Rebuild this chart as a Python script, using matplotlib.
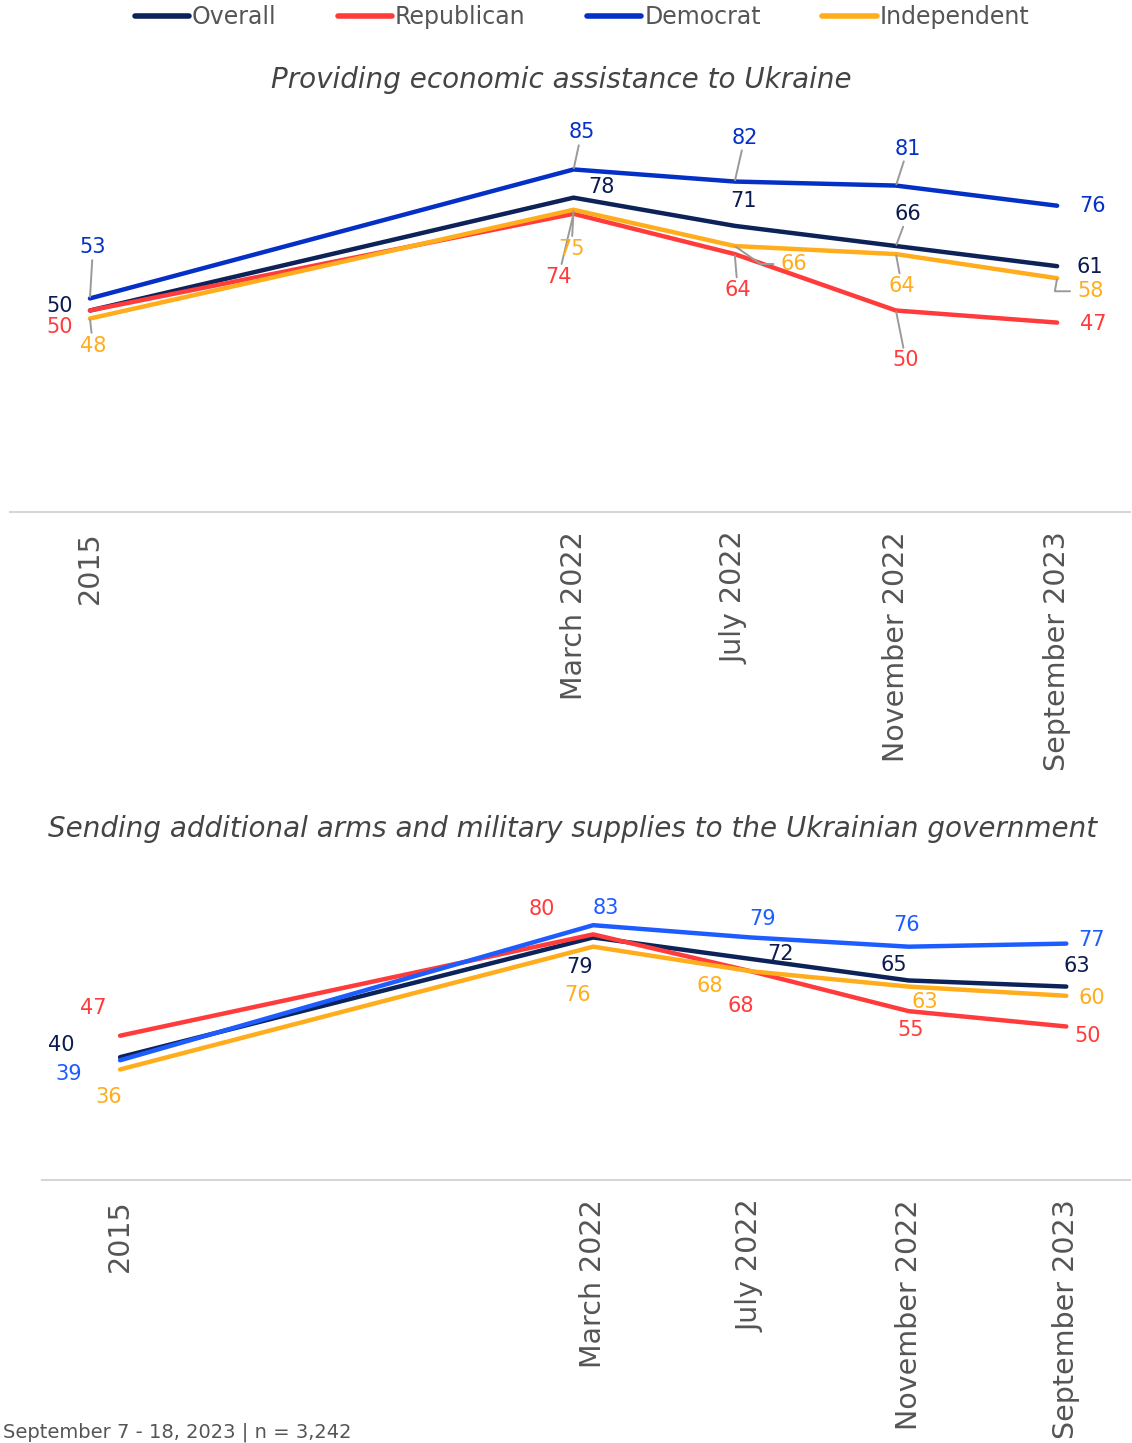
import matplotlib as mpl
mpl.use('Agg')
import matplotlib.pyplot as plt
from matplotlib.lines import Line2D

# ---- data -------------------------------------------------------------
waves = ['2015', 'March 2022', 'July 2022', 'November 2022', 'September 2023']
groups = ['Overall', 'Republican', 'Democrat', 'Independent']

econ = {'Overall':     [50, 78, 71, 66, 61],
        'Republican':  [50, 74, 64, 50, 47],
        'Democrat':    [53, 85, 82, 81, 76],
        'Independent': [48, 75, 66, 64, 58]}

arms = {'Overall':     [40, 79, 72, 65, 63],
        'Republican':  [47, 80, 68, 55, 50],
        'Democrat':    [39, 83, 79, 76, 77],
        'Independent': [36, 76, 68, 63, 60]}

title_econ = 'Providing economic assistance to Ukraine'
title_arms = 'Sending additional arms and military supplies to the Ukrainian government'
footer = 'September 7 - 18, 2023 | n = 3,242'

# ---- style ------------------------------------------------------------
xpos = [0, 3, 4, 5, 6]   # 2015 sits apart from the 2022-23 waves
clr_top = {'Overall': '#0c2259', 'Republican': '#ff3b3b',
           'Democrat': '#0530c6', 'Independent': '#ffad1c'}
clr_bot = dict(clr_top, Democrat='#1d5cff')
clr_txt = {'Overall': '#0b1a50'}
clr_gray = '#555555'
clr_lead = '#9a9a9a'

# label offsets in pixels (dx, dy down) + leader flag
lab_top = {'Overall':     [(-30, -4, 0), (28, -11, 0), (9, -25, 0), (12, -32, 1), (33, 1, 0)],
           'Republican':  [(-30, 17, 0), (-15, 63, 1), (3, 36, 1), (10, 50, 1), (36, 1, 0)],
           'Democrat':    [(3, -51, 1), (8, -37, 1), (10, -44, 1), (12, -37, 1), (35, 0, 0)],
           'Independent': [(3, 27, 1), (-2, 39, 1), (59, 18, 1), (6, 32, 1), (33, 13, 1)]}
# leaders with an elbow: angle of the segment touching the point
elbow = {('Independent', 2): -35, ('Independent', 4): 80}
lab_bot = {'Overall':     [(-59, -12), (-14, 30), (30, -5), (-15, -15), (11, -21)],
           'Republican':  [(-27, -28), (-51, -25), (-10, 35), (2, 19), (21, 10)],
           'Democrat':    [(-51, 14), (13, -17), (12, -18), (-2, -22), (25, -4)],
           'Independent': [(-11, 28), (-16, 48), (-41, 15), (16, 15), (26, 2)]}

W, H = 1132., 1443.
rDPI = 100.
plt.rcParams['font.family'] = 'DejaVu Sans'

fig = plt.figure(figsize=(W/rDPI, H/rDPI), dpi=rDPI, facecolor='w')


def panel(rect, data, clrs, labs, xlim, leaders):
    ax = fig.add_axes(rect)
    for g in groups:
        ax.plot(xpos, data[g], '-', color=clrs[g], lw=3.2, solid_capstyle='round',
                solid_joinstyle='miter', zorder=3)
    for g in groups:
        for i, v in enumerate(data[g]):
            o = labs[g][i]
            kw = {}
            if leaders and o[2]:
                if (g, i) in elbow:
                    kw['arrowprops'] = dict(arrowstyle='-', color=clr_lead, lw=1.4,
                                            shrinkA=3, shrinkB=1, relpos=(0., 0.5),
                                            connectionstyle='angle,angleA=0,angleB=%d,rad=0' % elbow[(g, i)])
                else:
                    kw['arrowprops'] = dict(arrowstyle='-', color=clr_lead, lw=1.4,
                                            shrinkA=0, shrinkB=1)
            ax.annotate(str(v), xy=(xpos[i], v), xytext=(o[0], -o[1]),
                        textcoords='offset pixels', ha='center', va='center',
                        fontsize=15, color=clr_txt.get(g, clrs[g]), zorder=5, **kw)
    ax.set_xlim(*xlim)
    ax.set_ylim(0, 100)
    ax.set_xticks(xpos)
    ax.set_xticklabels(waves, rotation=90, fontsize=20.5, color=clr_gray)
    ax.tick_params(axis='x', length=0, pad=14)
    ax.set_yticks([])
    for s in ['top', 'left', 'right']:
        ax.spines[s].set_visible(False)
    ax.spines['bottom'].set_color('#d6d6d6')
    ax.spines['bottom'].set_linewidth(1.5)
    return ax


panel([10/W, 1-512/H, 1120/W, 403/H], econ, clr_top, lab_top, (-0.496, 6.452), True)
panel([42/W, 1-1180/H, 1088/W, 307/H], arms, clr_bot,
      {g: [(a, b, 0) for a, b in lab_bot[g]] for g in groups}, (-0.495, 6.404), False)

fig.text(561/W, 1-80/H, title_econ, ha='center', va='center', fontsize=20,
         style='italic', color='#444444')
fig.text(573/W, 1-829/H, title_arms, ha='center', va='center', fontsize=20,
         style='italic', color='#444444')

hnd = [Line2D([], [], color=clr_top[g], lw=4, solid_capstyle='round') for g in groups]
fig.legend(hnd, groups, loc='center', bbox_to_anchor=(582/W, 1-17/H), ncol=4,
           frameon=False, fontsize=17, labelcolor=clr_gray, handlelength=2.3,
           handletextpad=0.12, columnspacing=2.6)

fig.text(3/W, 1-1432/H, footer, ha='left', va='center', fontsize=14, color=clr_gray)

plt.savefig('out.png', dpi=rDPI, facecolor='w')
plt.close(fig)
